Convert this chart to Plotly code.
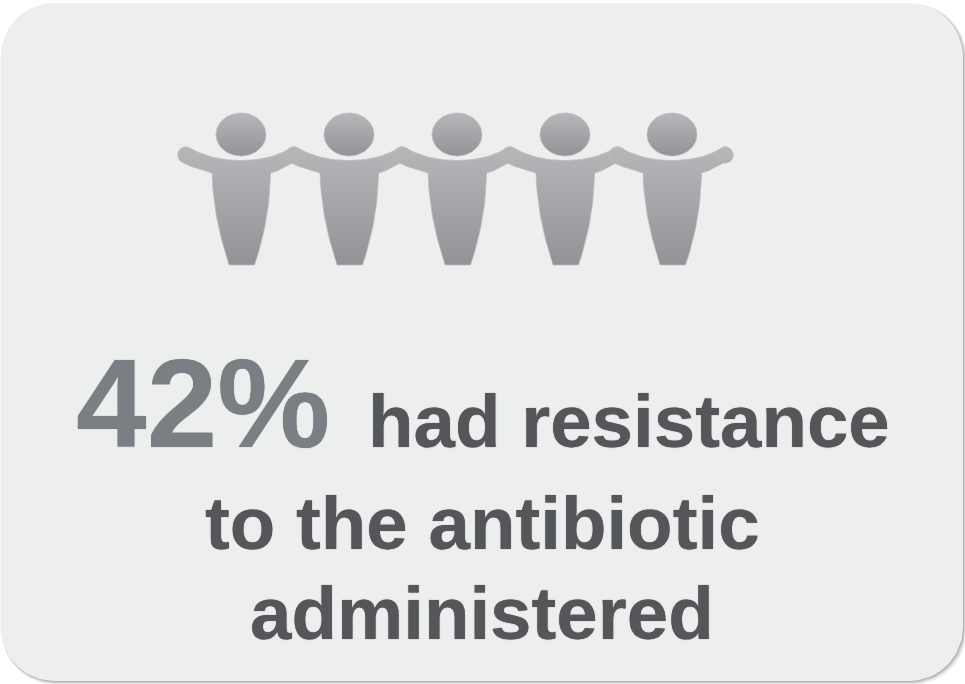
import numpy as np
import plotly.graph_objects as go

# Callout content
stat_label = "42%"
stat_caption = "had resistance"
caption_lines = ["to the antibiotic", "administered"]

# Pictogram: one figure per entry, positions in page pixels
figure_centers = [241, 349, 457, 565, 672]
HEAD_Y = 134.5
HEAD_RX, HEAD_RY = 25, 21.5

CARD_LEFT, CARD_TOP, CARD_RIGHT, CARD_BOTTOM = 0.5, 3, 963, 681
CARD_RADIUS = 54
CARD_COLOR = "#EDEFEF"
STAT_COLOR = "#7B7E82"
TEXT_COLOR = "#55565A"
# The y axis runs downward, so the ramp starts at the darker feet
FIGURE_RAMP = [[0, "#929397"], [1, "#B6B7B9"]]
OUTLINE = "#BDBEC0"


def rounded_rect(x0, y0, x1, y1, r, n=24):
    t = np.linspace(0, np.pi / 2, n)
    xs = np.concatenate([x1 - r + r * np.sin(t), x1 - r + r * np.cos(t),
                         x0 + r - r * np.sin(t), x0 + r - r * np.cos(t)])
    ys = np.concatenate([y0 + r - r * np.cos(t), y1 - r + r * np.sin(t),
                         y1 - r + r * np.cos(t), y0 + r - r * np.sin(t)])
    return np.append(xs, xs[0]), np.append(ys, ys[0])


def bezier(p0, p1, p2, p3, n=24):
    t = np.linspace(0, 1, n)[:, None]
    p0, p1, p2, p3 = map(np.array, (p0, p1, p2, p3))
    return (1 - t) ** 3 * p0 + 3 * (1 - t) ** 2 * t * p1 + 3 * (1 - t) * t ** 2 * p2 + t ** 3 * p3


def arc(cx, cy, r, a0, a1, n=14):
    a = np.radians(np.linspace(a0, a1, n))
    return np.column_stack([cx + r * np.cos(a), cy + r * np.sin(a)])


def body_outline(cx):
    """Outstretched arms and tapered torso, relative to the figure's centre."""
    segments = [
        # top edge of the arms, tip to tip
        bezier((-53, 147), (-38, 156), (-20, 160.5), (0, 160.5)),
        bezier((0, 160.5), (20, 160.5), (38, 156), (51, 147)),
        arc(53, 155, 8.3, -100, 100),
        # underside of the right arm and right side of the torso
        bezier((50, 163.5), (44, 167), (38, 171), (29.5, 173)),
        bezier((29.5, 173), (29, 210), (22, 240), (13.5, 265)),
        # foot
        np.array([[-12, 265]]),
        # left side of the torso and underside of the left arm
        bezier((-12, 265), (-20, 240), (-28, 210), (-29, 173)),
        bezier((-29, 173), (-40, 170), (-50, 167), (-58, 163)),
        arc(-55, 155, 8.3, 110, 265),
    ]
    pts = np.vstack(segments)
    return pts[:, 0] + cx, pts[:, 1]


def add_fill(fig, xs, ys, **kwargs):
    fig.add_trace(go.Scatter(x=xs, y=ys, mode="lines", fill="toself",
                             hoverinfo="skip", showlegend=False, **kwargs))


fig = go.Figure()

# Soft drop shadow falling to the lower right of the card
for grow, alpha in [(4, 0.06), (3, 0.10), (2, 0.16), (1, 0.22)]:
    xs, ys = rounded_rect(CARD_LEFT + 1, CARD_TOP + 1, CARD_RIGHT + grow, CARD_BOTTOM + grow, CARD_RADIUS)
    add_fill(fig, xs, ys, line=dict(width=0), fillcolor=f"rgba(90,90,90,{alpha})")

# Card
xs, ys = rounded_rect(CARD_LEFT, CARD_TOP, CARD_RIGHT, CARD_BOTTOM, CARD_RADIUS)
add_fill(fig, xs, ys, line=dict(width=0), fillcolor=CARD_COLOR)

# Figures, left to right so each arm overlaps its neighbour
for cx in figure_centers:
    xs, ys = body_outline(cx)
    add_fill(fig, xs, ys, line=dict(width=0.75, color=OUTLINE),
             fillgradient=dict(type="vertical", colorscale=FIGURE_RAMP))
    a = np.linspace(0, 2 * np.pi, 80)
    add_fill(fig, cx + HEAD_RX * np.cos(a), HEAD_Y + HEAD_RY * np.sin(a),
             line=dict(width=0.75, color=OUTLINE),
             fillgradient=dict(type="vertical", colorscale=FIGURE_RAMP))


def add_text(x, y, text, size, color, anchor):
    fig.add_annotation(x=x, y=y, text=f"<b>{text}</b>", showarrow=False, xanchor=anchor,
                       yanchor="middle", xref="x", yref="y", borderpad=0,
                       font=dict(family="Liberation Sans", size=size, color=color,
                                 shadow=f"0 0 1px {color}"))


add_text(75, 402.5, stat_label, 127, STAT_COLOR, "left")
add_text(367, 421, stat_caption, 74.5, TEXT_COLOR, "left")
add_text(482, 523, caption_lines[0], 74.5, TEXT_COLOR, "center")
add_text(482, 613, caption_lines[1], 74.5, TEXT_COLOR, "center")

fig.update_layout(
    width=965, height=684, autosize=False,
    margin=dict(l=0, r=0, t=0, b=0),
    paper_bgcolor="white", plot_bgcolor="white",
    showlegend=False,
    xaxis=dict(range=[0, 965], visible=False, fixedrange=True),
    yaxis=dict(range=[684, 0], visible=False, fixedrange=True),
)

fig.write_html("out.html", config={"displayModeBar": False})
